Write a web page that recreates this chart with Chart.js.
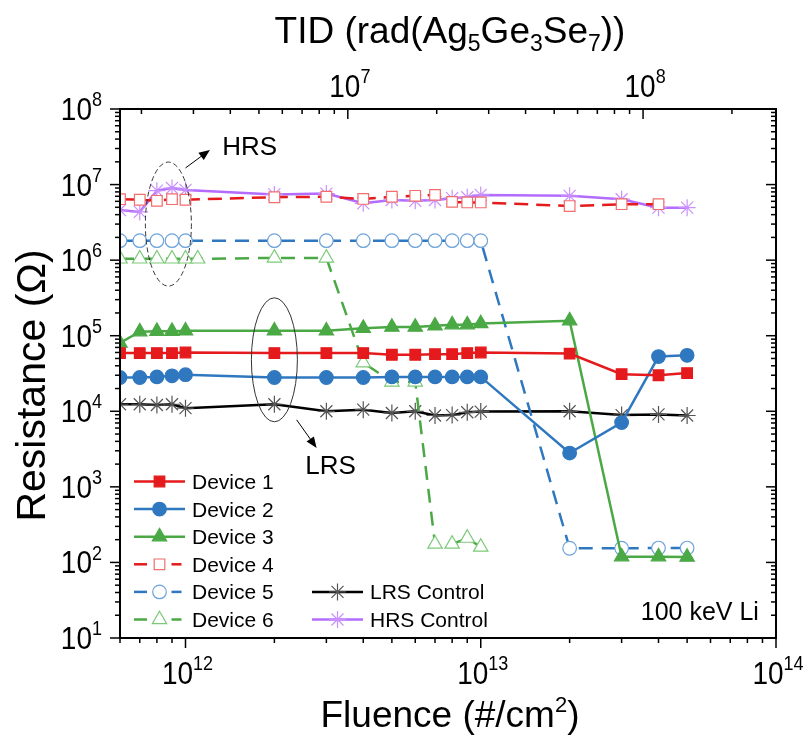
<!DOCTYPE html>
<html>
<head>
<meta charset="utf-8">
<script src="https://cdn.jsdelivr.net/npm/chart.js@4.4.1/dist/chart.umd.min.js"></script>
<style>
  html, body { margin: 0; padding: 0; background: #fff; }
  #wrap { width: 807px; height: 740px; }
</style>
</head>
<body>
<div id="wrap"><canvas id="chart" width="807" height="740"></canvas></div>
<script>
// fluence (#/cm2) steps
const fluence = [6e11, 7e11, 8e11, 9e11, 1e12, 2e12, 3e12, 4e12, 5e12, 6e12, 7e12, 8e12, 9e12, 1e13, 2e13, 3e13, 4e13, 5e13];
const fluenceDev4 = fluence.slice(0, 17);
const fluenceDev6 = [6e11, 7e11, 8e11, 9e11, 1e12, 1.1e12, 2e12, 3e12, 4e12, 5e12, 6e12, 7e12, 8e12, 9e12, 1e13];

// resistance (ohm)
const device1 = [5.9e4, 5.9e4, 5.9e4, 5.9e4, 6.0e4, 5.9e4, 5.9e4, 5.9e4, 5.6e4, 5.6e4, 5.7e4, 5.7e4, 5.9e4, 6.0e4, 5.8e4, 3.1e4, 3.0e4, 3.2e4];
const device2 = [2.8e4, 2.8e4, 2.85e4, 2.95e4, 3.05e4, 2.8e4, 2.8e4, 2.8e4, 2.85e4, 2.85e4, 2.85e4, 2.85e4, 2.85e4, 2.85e4, 2.8e3, 7.1e3, 5.3e4, 5.5e4];
const device3 = [8.0e4, 1.13e5, 1.15e5, 1.15e5, 1.16e5, 1.16e5, 1.16e5, 1.26e5, 1.3e5, 1.3e5, 1.35e5, 1.4e5, 1.4e5, 1.45e5, 1.58e5, 119, 119, 118];
const device4 = [6.4e6, 6.3e6, 6.1e6, 6.4e6, 6.3e6, 6.8e6, 6.9e6, 6.45e6, 6.9e6, 7.1e6, 7.3e6, 5.9e6, 5.8e6, 5.8e6, 5.2e6, 5.5e6, 5.5e6];
const device5 = [1.81e6, 1.81e6, 1.81e6, 1.81e6, 1.81e6, 1.81e6, 1.81e6, 1.81e6, 1.81e6, 1.81e6, 1.81e6, 1.81e6, 1.81e6, 1.81e6, 154, 154, 155, 155];
const device6 = [1.04e6, 1.04e6, 1.04e6, 1.04e6, 1.04e6, 1.04e6, 1.07e6, 1.07e6, 4.4e4, 2.45e4, 2.45e4, 175, 175, 210, 160];
const lrsControl = [1.24e4, 1.24e4, 1.21e4, 1.24e4, 1.1e4, 1.24e4, 1.0e4, 1.05e4, 9.5e3, 1.0e4, 8.8e3, 8.9e3, 9.7e3, 9.9e3, 1.0e4, 8.9e3, 9.1e3, 8.8e3];
const hrsControl = [4.6e6, 4.35e6, 8.3e6, 9.0e6, 8.5e6, 7.4e6, 7.6e6, 5.65e6, 6.26e6, 6.1e6, 6.26e6, 6.6e6, 6.8e6, 7.3e6, 7.1e6, 6.4e6, 4.95e6, 4.95e6];

// axes
const xTickExp = [12, 13, 14];
const yTickExp = [1, 2, 3, 4, 5, 6, 7, 8];
const tidTickExp = [7, 8];
const tidPerFluence = 2.82e-6;

const FONT = '"Liberation Sans", Arial, Helvetica, sans-serif';
const RED = "#e41a1c", RED_L = "#f26d6d";
const BLUE = "#2f78c0", BLUE_L = "#6ea3da";
const GREEN = "#4aa945", GREEN_L = "#7cc978";
const PURPLE = "#b36cff", PURPLE_L = "#c990ff";

function pts(xs, ys) { return ys.map((v, i) => ({ x: xs[i], y: v })); }

function series(label, xs, ys, line, marker, fill, style, r, dash) {
  return {
    label, data: pts(xs, ys),
    borderColor: line, borderWidth: 2.5, borderDash: dash || [],
    pointStyle: style, pointRadius: r, pointBorderColor: marker,
    pointBackgroundColor: fill, pointBorderWidth: 1.2,
    tension: 0, clip: 0, fill: false
  };
}

const datasets = [
  series("Device 1", fluence, device1, RED, RED, RED, "rect", 7.5),
  series("Device 2", fluence, device2, BLUE, BLUE, BLUE, "circle", 6.8),
  series("Device 3", fluence, device3, GREEN, GREEN, GREEN, "triangle", 8.3),
  series("Device 4", fluenceDev4, device4, RED, RED_L, "#fff", "rect", 7.5, [14, 8]),
  series("Device 5", fluence, device5, BLUE, BLUE_L, "#fff", "circle", 6.8, [14, 9]),
  series("Device 6", fluenceDev6, device6, GREEN, GREEN_L, "#fff", "triangle", 8.3, [14, 9]),
  series("LRS Control", fluence, lrsControl, "#000", "#555", "#555", "star", 8.5),
  series("HRS Control", fluence, hrsControl, PURPLE, PURPLE_L, PURPLE_L, "star", 8.5)
];

function line(ctx, x1, y1, x2, y2) {
  ctx.beginPath(); ctx.moveTo(x1, y1); ctx.lineTo(x2, y2); ctx.stroke();
}

// "10" with a raised exponent, slightly tall glyphs like the source figure
function pow10(ctx, exp, x, y, align, size, supSize) {
  ctx.font = size + "px " + FONT;
  const wb = ctx.measureText("10").width;
  ctx.font = supSize + "px " + FONT;
  const we = ctx.measureText(String(exp)).width;
  const w = wb + we;
  const x0 = align === "center" ? x - w / 2 : align === "right" ? x - w : x;
  ctx.save();
  ctx.translate(x0, y);
  ctx.scale(1, 1.12);
  ctx.textAlign = "left";
  ctx.textBaseline = "alphabetic";
  ctx.font = size + "px " + FONT;
  ctx.fillText("10", 0, 0);
  ctx.font = supSize + "px " + FONT;
  ctx.fillText(String(exp), wb, -size * 0.44);
  ctx.restore();
}

// runs of [text, size, dy]
function richText(ctx, parts, x, y, align) {
  let w = 0;
  parts.forEach(p => { ctx.font = p[1] + "px " + FONT; w += ctx.measureText(p[0]).width; });
  let cx = align === "center" ? x - w / 2 : x;
  ctx.textAlign = "left";
  ctx.textBaseline = "alphabetic";
  parts.forEach(p => {
    ctx.font = p[1] + "px " + FONT;
    ctx.fillText(p[0], cx, y + p[2]);
    cx += ctx.measureText(p[0]).width;
  });
}

function arrow(ctx, x1, y1, x2, y2) {
  const ang = Math.atan2(y2 - y1, x2 - x1);
  const hl = 11, hw = 4.5;
  line(ctx, x1, y1, x2 - Math.cos(ang) * hl * 0.8, y2 - Math.sin(ang) * hl * 0.8);
  ctx.beginPath();
  ctx.moveTo(x2, y2);
  ctx.lineTo(x2 - Math.cos(ang) * hl - Math.sin(ang) * hw, y2 - Math.sin(ang) * hl + Math.cos(ang) * hw);
  ctx.lineTo(x2 - Math.cos(ang) * hl + Math.sin(ang) * hw, y2 - Math.sin(ang) * hl - Math.cos(ang) * hw);
  ctx.closePath();
  ctx.fill();
}

const decor = {
  id: "decor",
  afterDraw(chart) {
    const { ctx, chartArea: a, scales } = chart;
    const xs = scales.x, ys = scales.y, ts = scales.tid;
    ctx.save();
    ctx.strokeStyle = "#000";
    ctx.fillStyle = "#000";

    // frame
    ctx.lineWidth = 2;
    ctx.strokeRect(a.left, a.top, a.right - a.left, a.bottom - a.top);

    // ticks
    ctx.lineWidth = 1.5;
    for (let e = 1; e <= 8; e++) {
      for (let m = 1; m <= 9; m++) {
        const v = m * Math.pow(10, e);
        if (v > ys.max * 1.0001) break;
        const py = ys.getPixelForValue(v);
        const len = m === 1 ? 10 : 5;
        line(ctx, a.left - len, py, a.left, py);
        line(ctx, a.right - len, py, a.right, py);
      }
    }
    for (let e = 11; e <= 14; e++) {
      for (let m = 1; m <= 9; m++) {
        const v = m * Math.pow(10, e);
        if (v < xs.min * 0.9999 || v > xs.max * 1.0001) continue;
        const px = xs.getPixelForValue(v);
        line(ctx, px, a.bottom, px, a.bottom + (m === 1 ? 10 : 5));
      }
    }
    for (let e = 6; e <= 8; e++) {
      for (let m = 1; m <= 9; m++) {
        const v = m * Math.pow(10, e);
        if (v < ts.min || v > ts.max) continue;
        const px = ts.getPixelForValue(v);
        line(ctx, px, a.top, px, a.top + (m === 1 ? 10 : 5));
      }
    }

    // tick labels
    yTickExp.forEach(e => pow10(ctx, e, 102, ys.getPixelForValue(Math.pow(10, e)) + 11, "right", 28, 18));
    xTickExp.forEach(e => pow10(ctx, e, xs.getPixelForValue(Math.pow(10, e)) + 2, 684, "center", 28, 18));
    tidTickExp.forEach(e => pow10(ctx, e, ts.getPixelForValue(Math.pow(10, e)) + 2, 97, "center", 28, 18));

    // axis titles
    richText(ctx, [["Fluence (#/cm", 37, 0], ["2", 22, -15], [")", 37, 0]], (a.left + a.right) / 2 + 2, 727, "center");
    richText(ctx, [["TID (rad(Ag", 37, 0], ["5", 23, 8], ["Ge", 37, 0], ["3", 23, 8], ["Se", 37, 0], ["7", 23, 8], ["))", 37, 0]], (a.left + a.right) / 2 + 2, 43, "center");
    ctx.save();
    ctx.translate(45, (a.top + a.bottom) / 2 + 12);
    ctx.rotate(-Math.PI / 2);
    ctx.font = "41px " + FONT;
    ctx.textAlign = "center";
    ctx.textBaseline = "alphabetic";
    ctx.fillText("Resistance (\u03A9)", 0, 0);
    ctx.restore();

    // annotations
    ctx.save();
    ctx.beginPath();
    ctx.rect(a.left, a.top, a.right - a.left, a.bottom - a.top);
    ctx.clip();
    ctx.lineWidth = 1;
    ctx.strokeStyle = "#333";
    ctx.setLineDash([5, 3]);
    ctx.beginPath();
    ctx.ellipse(xs.getPixelForValue(8.75e11), ys.getPixelForValue(3.0e6), 23, 62, 0, 0, Math.PI * 2);
    ctx.stroke();
    ctx.setLineDash([]);
    ctx.beginPath();
    ctx.ellipse(xs.getPixelForValue(2.0e12), ys.getPixelForValue(4.8e4), 23, 62, 0, 0, Math.PI * 2);
    ctx.stroke();
    ctx.strokeStyle = "#000";
    arrow(ctx, xs.getPixelForValue(1.0e12), ys.getPixelForValue(1.66e7), xs.getPixelForValue(1.21e12), ys.getPixelForValue(2.87e7));
    arrow(ctx, xs.getPixelForValue(2.38e12), ys.getPixelForValue(7.7e3), xs.getPixelForValue(2.78e12), ys.getPixelForValue(3.27e3));
    ctx.restore();

    ctx.font = "26px " + FONT;
    ctx.textAlign = "center";
    ctx.textBaseline = "alphabetic";
    ctx.fillText("HRS", xs.getPixelForValue(1.65e12), ys.getPixelForValue(3.24e7) + 9);
    ctx.fillText("LRS", xs.getPixelForValue(3.1e12), ys.getPixelForValue(1.95e3) + 9);
    ctx.font = "25px " + FONT;
    ctx.textAlign = "right";
    ctx.fillText("100 keV Li", xs.getPixelForValue(8.75e13), ys.getPixelForValue(17.3));

    // legend
    const rows = [
      [0, 0], [0, 1], [0, 2], [0, 3], [0, 4], [0, 5], [1, 4], [1, 5]
    ];
    chart.data.datasets.forEach((ds, i) => {
      const col = rows[i][0], row = rows[i][1];
      const x0 = col ? 312 : 134, cy = 481.5 + row * 27.6;
      const xm = x0 + 25.5;
      ctx.save();
      ctx.strokeStyle = ds.borderColor;
      ctx.lineWidth = 2.5;
      if (ds.borderDash.length) {
        line(ctx, x0, cy, x0 + 13, cy);
        line(ctx, xm + 12, cy, xm + 22, cy);
      } else {
        line(ctx, x0, cy, x0 + 51, cy);
      }
      ctx.fillStyle = ds.pointBackgroundColor;
      ctx.strokeStyle = ds.pointBorderColor;
      ctx.lineWidth = ds.pointBorderWidth;
      Chart.helpers.drawPoint(ctx, { pointStyle: ds.pointStyle, radius: ds.pointRadius, rotation: 0, borderWidth: ds.pointBorderWidth }, xm, cy);
      ctx.restore();
      ctx.font = "21px " + FONT;
      ctx.textAlign = "left";
      ctx.textBaseline = "alphabetic";
      ctx.fillText(ds.label, x0 + 58, cy + 7.5);
    });

    ctx.restore();
  }
};

new Chart(document.getElementById("chart"), {
  type: "line",
  data: { datasets },
  options: {
    responsive: false,
    animation: false,
    layout: { padding: { left: 120, top: 109, right: 31, bottom: 102 } },
    plugins: { legend: { display: false }, tooltip: { enabled: false } },
    scales: {
      x: { type: "logarithmic", min: 6e11, max: 1e14, display: false },
      y: { type: "logarithmic", min: 10, max: 1e8, display: false },
      tid: { type: "logarithmic", axis: "x", position: "top", min: 6e11 * tidPerFluence, max: 1e14 * tidPerFluence, display: false }
    }
  },
  plugins: [decor]
});
</script>
</body>
</html>
